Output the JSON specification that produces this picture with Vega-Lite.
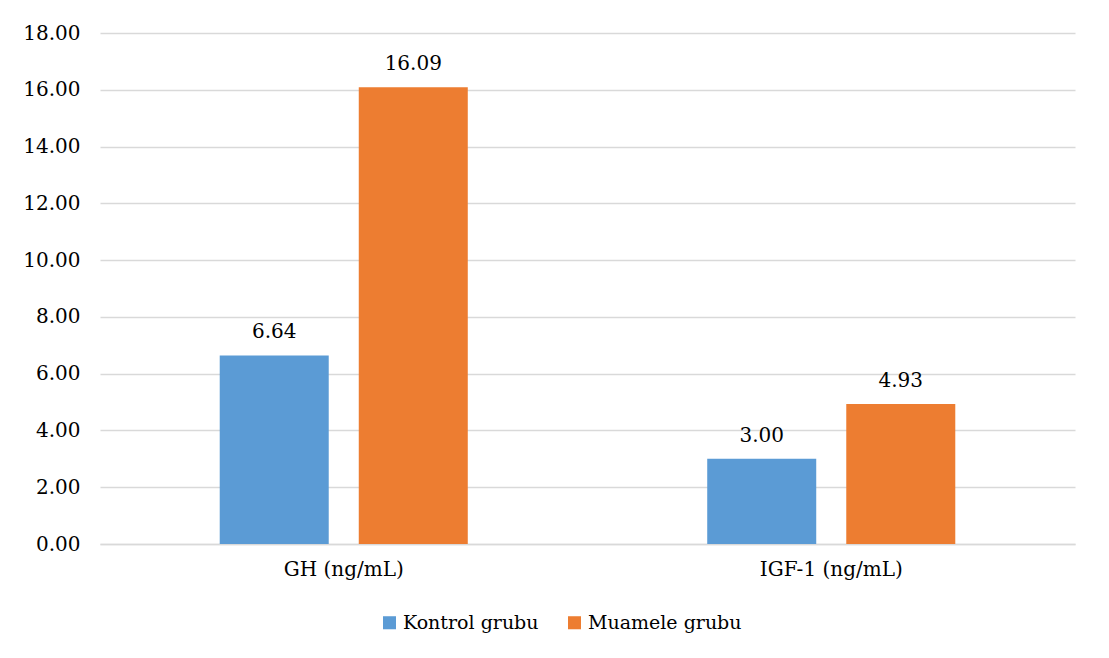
{
  "$schema": "https://vega.github.io/schema/vega-lite/v6.json",
  "autosize": {"type": "none"},
  "width": 975,
  "height": 511,
  "padding": {"left": 100, "top": 33, "right": 34, "bottom": 114},
  "background": "white",
  "config": {
    "font": "DejaVu Serif",
    "view": {"stroke": null},
    "axis": {"labelFont": "DejaVu Serif", "labelFontSize": 20, "labelColor": "#000000", "ticks": false, "title": null}
  },
  "data": {
    "values": [
      {"parameter": "GH (ng/mL)", "group": "Kontrol grubu", "value": 6.64},
      {"parameter": "GH (ng/mL)", "group": "Muamele grubu", "value": 16.09},
      {"parameter": "IGF-1 (ng/mL)", "group": "Kontrol grubu", "value": 3.00},
      {"parameter": "IGF-1 (ng/mL)", "group": "Muamele grubu", "value": 4.93}
    ]
  },
  "encoding": {
    "x": {
      "field": "parameter", "type": "nominal", "sort": null,
      "scale": {"paddingInner": 0, "paddingOuter": 0},
      "axis": {"labelAngle": 0, "domain": true, "domainColor": "#d9d9d9", "domainWidth": 1.5, "labelPadding": 15, "grid": false}
    },
    "xOffset": {
      "field": "group", "type": "nominal",
      "scale": {"paddingInner": 0.216, "paddingOuter": 0.861}
    },
    "y": {
      "field": "value", "type": "quantitative",
      "scale": {"domain": [0, 18]},
      "axis": {"values": [0, 2, 4, 6, 8, 10, 12, 14, 16, 18], "format": ".2f", "domain": false, "grid": true, "gridColor": "#d9d9d9", "gridWidth": 1.5, "labelPadding": 20}
    }
  },
  "layer": [
    {
      "mark": {"type": "bar"},
      "encoding": {
        "color": {
          "field": "group", "type": "nominal",
          "scale": {"domain": ["Kontrol grubu", "Muamele grubu"], "range": ["#5B9BD5", "#ED7D31"]},
          "legend": {
            "orient": "none", "legendX": 280, "legendY": 580, "direction": "horizontal", "title": null,
            "symbolType": "square", "symbolSize": 170, "symbolStrokeWidth": 0,
            "labelFont": "DejaVu Serif", "labelFontSize": 19, "labelColor": "#000000", "labelLimit": 400,
            "labelOffset": 4, "columnPadding": 26
          }
        }
      }
    },
    {
      "mark": {"type": "text", "baseline": "alphabetic", "dy": -17, "fontSize": 20, "font": "DejaVu Serif", "color": "#000000"},
      "encoding": {
        "text": {"field": "value", "type": "quantitative", "format": ".2f"}
      }
    }
  ]
}
